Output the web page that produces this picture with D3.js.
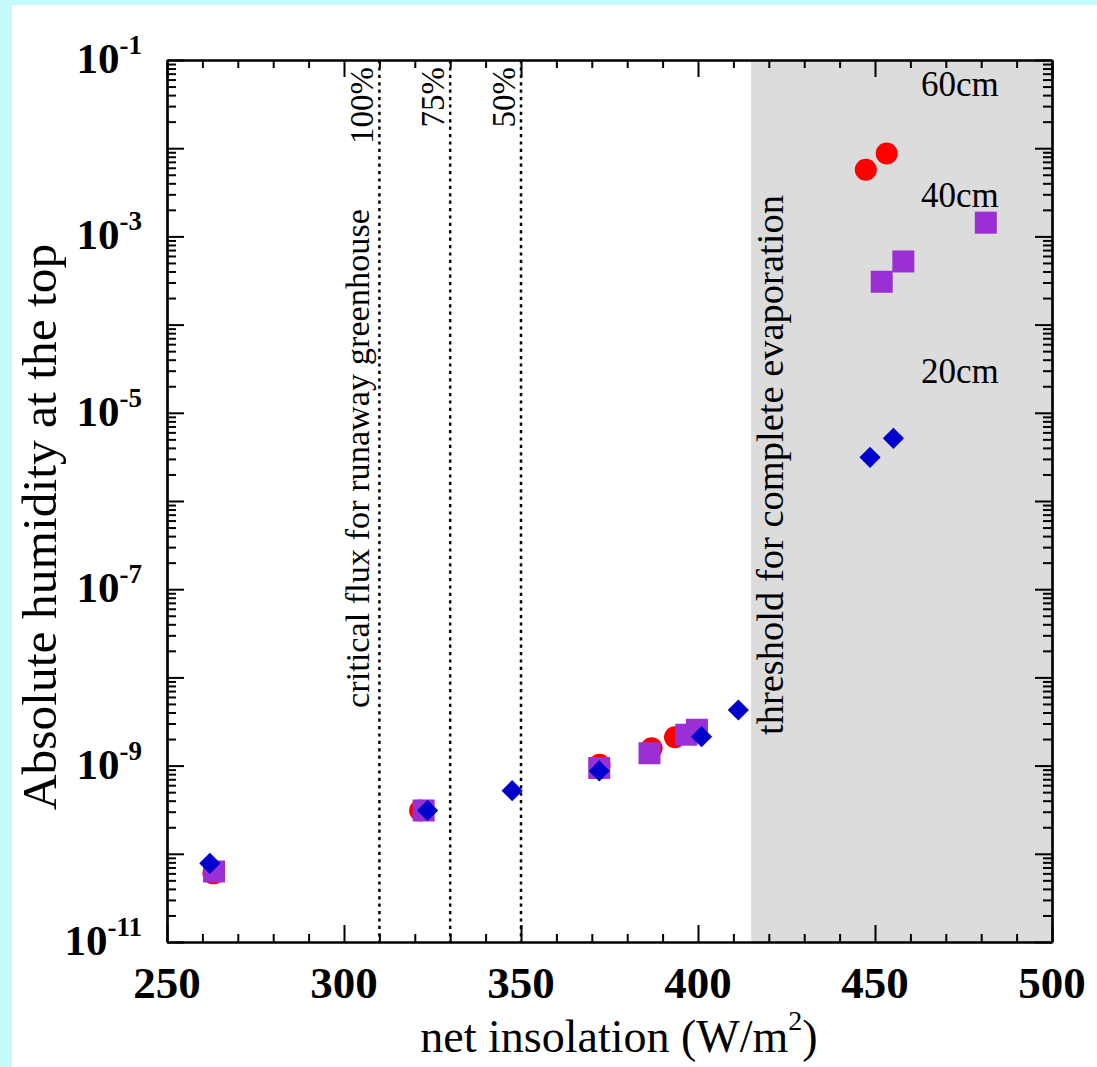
<!DOCTYPE html>
<html>
<head>
<meta charset="utf-8">
<script src="https://cdn.jsdelivr.net/npm/d3@7"></script>
<style>
  html, body { margin: 0; padding: 0; background: #c6fbfc; }
  svg { display: block; }
</style>
</head>
<body>
<svg id="chart" width="1097" height="1067"></svg>
<script>
// ---------------- data ----------------
const insol60 = [263.1, 321.5, 372.2, 386.9, 393.5, 447.4, 453.3];
const humid60 = [6.0e-11, 3.1e-10, 1.02e-9, 1.57e-9, 2.1e-9, 5.7e-3, 8.7e-3];

const insol40 = [263.3, 322.5, 372.1, 386.3, 396.7, 399.7, 451.9, 458.0, 481.3];
const humid40 = [6.3e-11, 3.1e-10, 9.4e-10, 1.38e-9, 2.24e-9, 2.55e-9, 3.06e-4, 5.2e-4, 1.43e-3];

const insol20 = [262.1, 323.6, 347.5, 372.1, 401.0, 411.4, 448.6, 455.2];
const humid20 = [7.8e-11, 3.1e-10, 5.2e-10, 8.7e-10, 2.13e-9, 4.27e-9, 3.13e-6, 5.14e-6];

const xTickValues = [250, 300, 350, 400, 450, 500];
const xTickLabels = ["250", "300", "350", "400", "450", "500"];
const yLabelExponents = [-1, -3, -5, -7, -9, -11];

const criticalFlux = [310, 330, 350];
const criticalLabels = ["100%", "75%", "50%"];
const evaporationThreshold = 415;
const depthLabels = ["60cm", "40cm", "20cm"];
const depthLabelY = [3.9e-2, 2.16e-3, 2.18e-5];
const depthLabelX = 463;

// ---------------- layout ----------------
const W = 1097, H = 1067;
const L = 167, R = 1052, T = 60, B = 942;
const serif = "'Liberation Serif', 'Times New Roman', serif";

const svg = d3.select("#chart");
svg.append("rect").attr("x", 0).attr("y", 0).attr("width", W).attr("height", H).attr("fill", "#c6fbfc");
svg.append("rect").attr("x", 12).attr("y", 5).attr("width", W - 12).attr("height", H - 5).attr("fill", "#ffffff");

const x = d3.scaleLinear().domain([250, 500]).range([L, R]);
const y = d3.scaleLog().domain([1e-11, 1e-1]).range([B, T]);

// shaded evaporation region
svg.append("rect")
  .attr("x", x(evaporationThreshold)).attr("y", T)
  .attr("width", x(500) - x(evaporationThreshold)).attr("height", B - T)
  .attr("fill", "#dcdcdc");

// dotted critical flux lines
svg.selectAll("line.crit").data(criticalFlux).join("line")
  .attr("class", "crit")
  .attr("x1", d => x(d)).attr("x2", d => x(d))
  .attr("y1", T).attr("y2", B)
  .attr("stroke", "#000").attr("stroke-width", 2.5)
  .attr("stroke-dasharray", "3.2,4.2");

// ---------------- axes ----------------
const xMinor = d3.range(250, 501, 10).filter(v => v % 50 !== 0);
const yMajor = d3.range(-11, 0).map(e => Math.pow(10, e));
const yMinor = [];
for (let e = -11; e < -1; e++) for (let m = 2; m <= 9; m++) yMinor.push(m * Math.pow(10, e));

function styleAxis(g) {
  g.selectAll("path.domain").attr("stroke", "#000").attr("stroke-width", 2.2);
  g.selectAll(".tick line").attr("stroke", "#000").attr("stroke-width", 2);
  g.selectAll(".tick text").remove();
}
const none = () => "";

// bottom
svg.append("g").attr("transform", `translate(0,${B})`)
  .call(d3.axisBottom(x).tickValues(xTickValues).tickSizeInner(-17).tickSizeOuter(0).tickFormat(none)).call(styleAxis);
svg.append("g").attr("transform", `translate(0,${B})`)
  .call(d3.axisBottom(x).tickValues(xMinor).tickSizeInner(-8).tickSizeOuter(0).tickFormat(none)).call(styleAxis);
// top
svg.append("g").attr("transform", `translate(0,${T})`)
  .call(d3.axisTop(x).tickValues(xTickValues).tickSizeInner(-17).tickSizeOuter(0).tickFormat(none)).call(styleAxis);
svg.append("g").attr("transform", `translate(0,${T})`)
  .call(d3.axisTop(x).tickValues(xMinor).tickSizeInner(-8).tickSizeOuter(0).tickFormat(none)).call(styleAxis);
// left
svg.append("g").attr("transform", `translate(${L},0)`)
  .call(d3.axisLeft(y).tickValues(yMajor).tickSizeInner(-17).tickSizeOuter(0).tickFormat(none)).call(styleAxis);
svg.append("g").attr("transform", `translate(${L},0)`)
  .call(d3.axisLeft(y).tickValues(yMinor).tickSizeInner(-9).tickSizeOuter(0).tickFormat(none)).call(styleAxis);
// right
svg.append("g").attr("transform", `translate(${R},0)`)
  .call(d3.axisRight(y).tickValues(yMajor).tickSizeInner(-17).tickSizeOuter(0).tickFormat(none)).call(styleAxis);
svg.append("g").attr("transform", `translate(${R},0)`)
  .call(d3.axisRight(y).tickValues(yMinor).tickSizeInner(-9).tickSizeOuter(0).tickFormat(none)).call(styleAxis);

// x tick labels
svg.selectAll("text.xlab").data(xTickValues).join("text")
  .attr("class", "xlab")
  .attr("x", d => x(d)).attr("y", 998)
  .attr("text-anchor", "middle")
  .attr("font-family", serif).attr("font-weight", "bold").attr("font-size", 45)
  .text((d, i) => xTickLabels[i]);

// y tick labels
const yl = svg.selectAll("text.ylab").data(yLabelExponents).join("text")
  .attr("class", "ylab")
  .attr("x", 142).attr("y", d => y(Math.pow(10, d)) + 13)
  .attr("text-anchor", "end")
  .attr("font-family", serif).attr("font-weight", "bold");
yl.append("tspan").attr("font-size", 43).text("10");
yl.append("tspan").attr("font-size", 27).attr("dy", -19).text(d => String(d));

// axis titles
const xt = svg.append("text")
  .attr("x", 619).attr("y", 1052)
  .attr("text-anchor", "middle")
  .attr("font-family", serif).attr("font-size", 46);
xt.append("tspan").text("net insolation (W/m");
xt.append("tspan").attr("font-size", 28).attr("dy", -22).text("2");
xt.append("tspan").attr("dy", 22).text(")");

svg.append("text")
  .attr("transform", "translate(56,527) rotate(-90)")
  .attr("text-anchor", "middle")
  .attr("font-family", serif).attr("font-size", 49.5)
  .text("Absolute humidity at the top");

// annotations
svg.append("text")
  .attr("transform", `translate(${x(310) - 10},708) rotate(-90)`)
  .attr("text-anchor", "start")
  .attr("font-family", serif).attr("font-size", 34.3)
  .text("critical flux for runaway greenhouse");

svg.append("text")
  .attr("transform", `translate(${x(evaporationThreshold) + 32},735) rotate(-90)`)
  .attr("text-anchor", "start")
  .attr("font-family", serif).attr("font-size", 38.5)
  .text("threshold for complete evaporation");

svg.selectAll("text.pct").data(criticalFlux).join("text")
  .attr("class", "pct")
  .attr("transform", d => `translate(${x(d) - 6},67) rotate(-90)`)
  .attr("text-anchor", "end")
  .attr("font-family", serif).attr("font-size", 33)
  .text((d, i) => criticalLabels[i]);

svg.selectAll("text.depth").data(depthLabels).join("text")
  .attr("class", "depth")
  .attr("x", x(depthLabelX)).attr("y", (d, i) => y(depthLabelY[i]))
  .attr("font-family", serif).attr("font-size", 35)
  .text(d => d);

// ---------------- markers ----------------
const pts = (xs, ys) => xs.map((v, i) => ({ x: v, y: ys[i] }));

svg.append("g").selectAll("circle").data(pts(insol60, humid60)).join("circle")
  .attr("cx", d => x(d.x)).attr("cy", d => y(d.y)).attr("r", 11)
  .attr("fill", "#ff0000");

svg.append("g").selectAll("path").data(pts(insol40, humid40)).join("path")
  .attr("d", d3.symbol(d3.symbolSquare, 22 * 22))
  .attr("transform", d => `translate(${x(d.x)},${y(d.y)})`)
  .attr("fill", "#9a2fd6");

svg.append("g").selectAll("path").data(pts(insol20, humid20)).join("path")
  .attr("d", d3.symbol(d3.symbolSquare, 15 * 15))
  .attr("transform", d => `translate(${x(d.x)},${y(d.y)}) rotate(45)`)
  .attr("fill", "#0000cc");
</script>
</body>
</html>
